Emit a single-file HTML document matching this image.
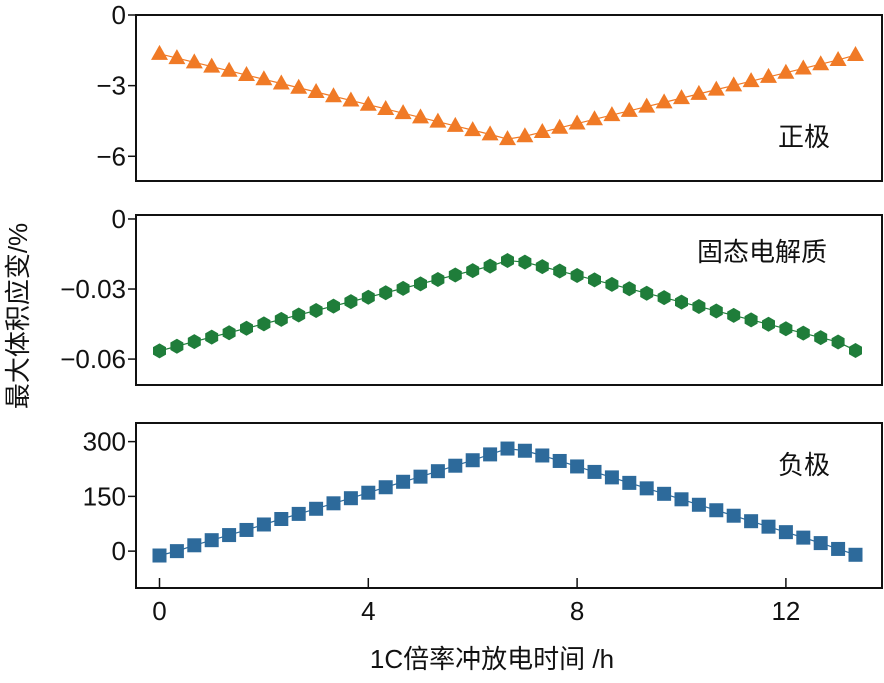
<!DOCTYPE html>
<html><head><meta charset="utf-8"><style>
body{margin:0;background:#fff;}
svg text{font-family:"Liberation Sans","Noto Sans CJK SC",sans-serif;fill:#111;}
</style></head><body>
<svg id="c" width="884" height="678" viewBox="0 0 884 678"></svg>
<script>
const times = [];
for (let i = 0; i <= 40; i++) times.push(i / 3);
const cathodeVals = [-1.65,-1.83,-2.01,-2.19,-2.37,-2.55,-2.73,-2.91,-3.09,-3.27,-3.45,-3.63,-3.81,-3.99,-4.17,-4.35,-4.53,-4.71,-4.89,-5.07,-5.27,-5.15,-4.97,-4.79,-4.61,-4.43,-4.25,-4.07,-3.89,-3.71,-3.53,-3.35,-3.17,-2.99,-2.81,-2.63,-2.45,-2.27,-2.09,-1.91,-1.7];
const electrolyteVals = [-0.0565,-0.0545,-0.0525,-0.0506,-0.0487,-0.0468,-0.0449,-0.043,-0.0411,-0.0392,-0.0373,-0.0354,-0.0335,-0.0316,-0.0297,-0.0278,-0.0259,-0.024,-0.0221,-0.0202,-0.0178,-0.0185,-0.0204,-0.0223,-0.0242,-0.0261,-0.028,-0.0299,-0.0318,-0.0337,-0.0356,-0.0375,-0.0394,-0.0413,-0.0432,-0.0451,-0.047,-0.0489,-0.0508,-0.0527,-0.0563];
const anodeVals = [-12,0,16,30,44,58,73,88,102,116,131,145,160,175,190,204,219,234,249,265,281,275,262,247,232,217,202,187,172,157,142,127,112,97,82,67,52,37,22,6,-10];
const xTicks = [0,4,8,12];
const cathodeTicks = [0,-3,-6];
const electrolyteTicks = [0,-0.03,-0.06];
const electrolyteTickLabels = ["0","−0.03","−0.06"];
const cathodeTickLabels = ["0","−3","−6"];
const anodeTicks = [0,150,300];

const svg = document.getElementById('c');
const NS = 'http://www.w3.org/2000/svg';
function mk(tag, attrs, parent){const e=document.createElementNS(NS,tag);for(const k in attrs)e.setAttribute(k,attrs[k]);(parent||svg).appendChild(e);return e;}
const X0=136, X1=882;
const xs = t => 159.5 + t*52.2;

const panels = [
 {name:'cathode', top:15, bot:181, ymin:-7.05, ymax:0, vals:cathodeVals, ticks:cathodeTicks, labels:cathodeTickLabels, color:'#f07a26', marker:'tri', label:'正极', lx:778, ly:146},
 {name:'electrolyte', top:215, bot:385, ymin:-0.0711, ymax:0.0017, vals:electrolyteVals, ticks:electrolyteTicks, labels:electrolyteTickLabels, color:'#1f7d3a', marker:'hex', label:'固态电解质', lx:697, ly:261},
 {name:'anode', top:423, bot:588, ymin:-101, ymax:351, vals:anodeVals, ticks:anodeTicks, labels:anodeTicks.map(String), color:'#2d6a9b', marker:'sq', label:'负极', lx:778, ly:474}
];

panels.forEach((p,pi)=>{
  const g = mk('g',{});
  
  
  const ys = v => p.bot - (v-p.ymin)/(p.ymax-p.ymin)*(p.bot-p.top);
  const fr = mk('rect',{x:X0,y:p.top,width:X1-X0,height:p.bot-p.top,fill:'none',stroke:'#111','stroke-width':2},g);
  
  
  p.ticks.forEach((t,i)=>{
    const y=ys(t);
    mk('line',{x1:X0-8,x2:X0,y1:y,y2:y,stroke:'#111','stroke-width':1.5},g);
    const tx = mk('text',{x:X0-10,y:y+9,'text-anchor':'end','font-size':26},g);
    tx.textContent = p.labels[i];
    
    
  });
  if (pi===2){
    xTicks.forEach(t=>{
      const x=xs(t);
      mk('line',{x1:x,x2:x,y1:p.bot-10,y2:p.bot,stroke:'#111','stroke-width':1.5},g);
      const tx = mk('text',{x:x,y:p.bot+32,'text-anchor':'middle','font-size':26},g);
      tx.textContent = t;
      
      
    });
  }
  const pts = p.vals.map((v,i)=>[xs(times[i]), ys(v)]);
  const ln = mk('polyline',{points:pts.map(q=>q.join(',')).join(' '),fill:'none',stroke:p.color,'stroke-width':1.2},g);
  
  
  pts.forEach(([x,y])=>{
    let m;
    if(p.marker==='tri') m = mk('polygon',{points:`${x},${y-9} ${x-8.5},${y+6} ${x+8.5},${y+6}`,fill:p.color},g);
    else if(p.marker==='sq') m = mk('rect',{x:x-7,y:y-7,width:14,height:14,fill:p.color},g);
    else { const r=7.5, a=[]; for(let k=0;k<6;k++){const an=Math.PI/6+k*Math.PI/3; a.push((x+r*Math.cos(an))+','+(y+r*Math.sin(an)));} m = mk('polygon',{points:a.join(' '),fill:p.color},g); }
    
    
  });
  const lb = mk('text',{x:p.lx,y:p.ly,'font-size':26},g);
  lb.textContent = p.label;
  
  
});
const xt = mk('text',{x:492,y:668,'text-anchor':'middle','font-size':26});
xt.textContent = '1C倍率冲放电时间 /h';


const yt = mk('text',{x:0,y:0,'text-anchor':'middle','font-size':26,transform:'translate(27,316) rotate(-90)'});
yt.textContent = '最大体积应变/%';


</script>
</body></html>
